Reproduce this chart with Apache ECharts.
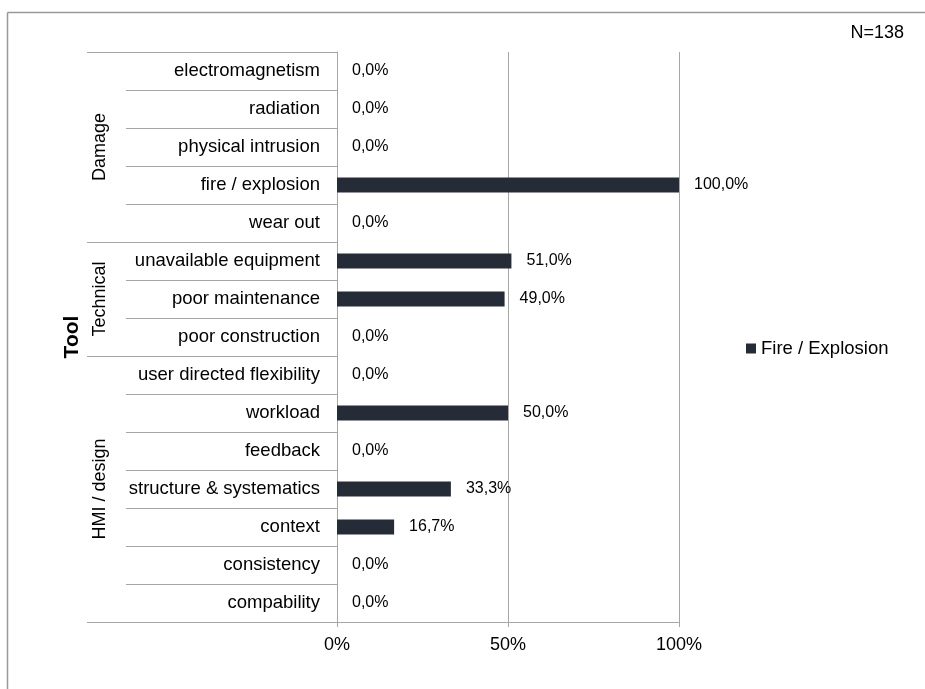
<!DOCTYPE html>
<html><head><meta charset="utf-8">
<script src="https://cdn.jsdelivr.net/npm/echarts@6/dist/echarts.min.js"></script>
<style>html,body{margin:0;padding:0;background:#fff}#c{width:925px;height:689px}</style>
</head><body><div id="c"></div>
<script>
const categories = ['electromagnetism','radiation','physical intrusion','fire / explosion','wear out','unavailable equipment','poor maintenance','poor construction','user directed flexibility','workload','feedback','structure & systematics','context','consistency','compability'];
const values = [0,0,0,100,0,51,49,0,0,50,0,33.3,16.7,0,0];
const groupNames = ['Damage','Technical','HMI / design'];
const groupSizes = [5,3,7];
const xTicks = [0,50,100];
const seriesName = 'Fire / Explosion';
const axisTitle = 'Tool';
const noteText = 'N=138';

const FONT = '"Liberation Sans", Arial, sans-serif';
const GRAY = '#a6a6a6';
const chart = echarts.init(document.getElementById('c'), null, {renderer:'canvas'});
const option = {
  animation:false,
  textStyle:{fontFamily:FONT},
  grid:{left:337,right:246,top:52,bottom:67,containLabel:false},
  legend:{data:[seriesName],left:741,top:334,itemWidth:10,itemHeight:10,icon:'rect',
    textStyle:{fontSize:18.5,color:'#000',fontFamily:FONT}},
  xAxis:{type:'value',min:xTicks[0],max:xTicks[xTicks.length-1],interval:xTicks[1]-xTicks[0],
    axisLine:{show:true,lineStyle:{color:GRAY}},
    axisTick:{show:true,length:5,lineStyle:{color:GRAY}},
    splitLine:{show:true,lineStyle:{color:GRAY}},
    axisLabel:{formatter:v=>v+'%',fontSize:18,color:'#000',margin:14,fontFamily:FONT}},
  yAxis:{type:'category',data:categories,inverse:true,
    axisLine:{show:true,lineStyle:{color:GRAY}},
    axisTick:{show:true,length:211,lineStyle:{color:GRAY}},
    axisLabel:{fontSize:18.5,color:'#000',margin:17,fontFamily:FONT},
    name:axisTitle,nameLocation:'middle',nameRotate:90,nameGap:254,
    nameTextStyle:{fontSize:21,fontWeight:'bold',color:'#000',fontFamily:FONT}},
  series:[{type:'bar',name:seriesName,data:values,barWidth:15,itemStyle:{color:'#252b37'},
    label:{show:true,position:'right',distance:15,fontSize:16,color:'#000',fontFamily:FONT,
      formatter:p=>p.value.toFixed(1).replace('.',',')+'%'}}]
};
chart.setOption(option);

const c0 = chart.convertToPixel({yAxisIndex:0}, categories[0]);
const c1 = chart.convertToPixel({yAxisIndex:0}, categories[1]);
const band = c1 - c0;
const xAxis0 = chart.convertToPixel({xAxisIndex:0}, 0);
const graphics = [];
let start = 0;
const bounds = [0];
groupSizes.forEach((n,i)=>{
  const yTop = c0 + (start - 0.5)*band;
  const yBot = c0 + (start + n - 0.5)*band;
  graphics.push({type:'text',x:100,y:(yTop+yBot)/2,rotation:Math.PI/2,
    style:{text:groupNames[i],font:'18px '+FONT,fill:'#000',align:'center',verticalAlign:'middle'}});
  start += n;
  bounds.push(start);
});
bounds.forEach(b=>{
  const y = Math.round(c0 + (b-0.5)*band) + 0.5;
  graphics.push({type:'line',shape:{x1:87,y1:y,x2:xAxis0,y2:y},style:{stroke:GRAY,lineWidth:1}});
});
graphics.push({type:'line',shape:{x1:7.5,y1:12.5,x2:7.5,y2:689},style:{stroke:'#999',lineWidth:1.5}});
graphics.push({type:'line',shape:{x1:7.5,y1:12.5,x2:925,y2:12.5},style:{stroke:'#999',lineWidth:1.5}});
graphics.push({type:'text',x:904,y:33,style:{text:noteText,font:'18px '+FONT,fill:'#000',align:'right',verticalAlign:'middle'}});
chart.setOption({graphic:graphics});
</script></body></html>
